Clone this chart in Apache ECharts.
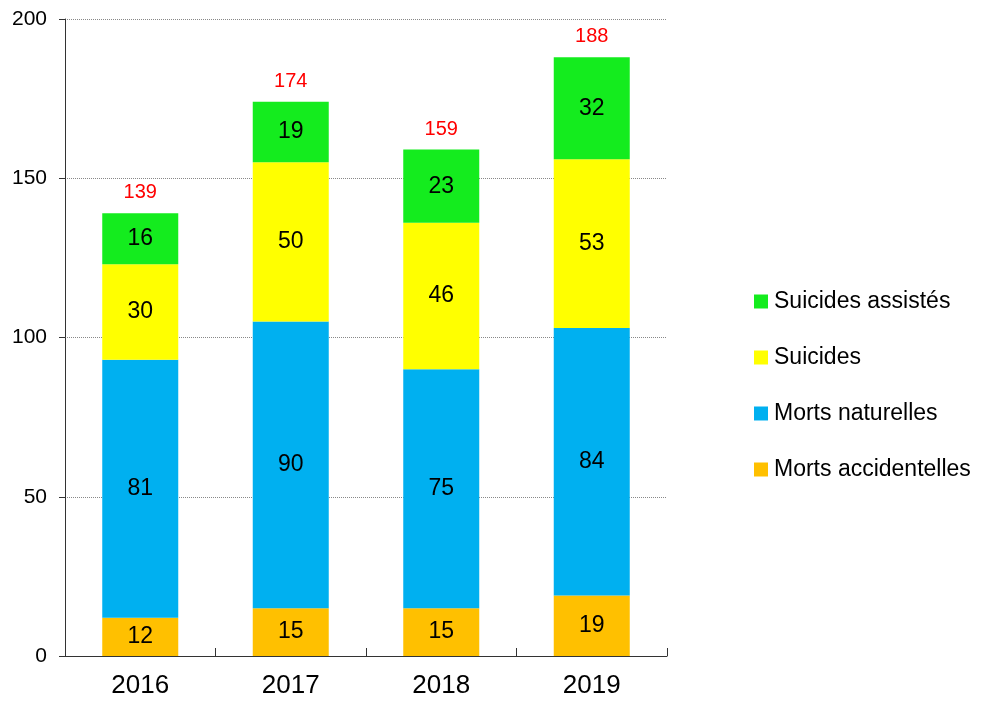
<!DOCTYPE html>
<html><head><meta charset="utf-8">
<script src="https://cdn.jsdelivr.net/npm/echarts@6/dist/echarts.min.js"></script>
<style>html,body{margin:0;padding:0;background:#fff}#c{width:981px;height:702px}</style>
</head><body><div id="c"></div>
<script>
const categories = ['2016','2017','2018','2019'];
const accidentelles = [12,15,15,19];
const naturelles = [81,90,75,84];
const suicides = [30,50,46,53];
const assistes = [16,19,23,32];
const totals = [139,174,159,188];
const yTicks = [0,50,100,150,200];

const font = 'Liberation Sans, Arial, sans-serif';
const chart = echarts.init(document.getElementById('c'));
function barSeries(name, data, color){
  return {name, type:'bar', stack:'s', data, barWidth:76,
    itemStyle:{color},
    label:{show:true, position:'inside', color:'#000', fontSize:23, fontFamily:font},
    emphasis:{disabled:true}};
}
chart.setOption({
  animation:false,
  textStyle:{fontFamily:font},
  grid:{left:65, right:314, top:19, bottom:46},
  legend:{orient:'vertical', left:749, top:285, itemWidth:14, itemHeight:14, itemGap:33,
    icon:'rect',
    textStyle:{fontSize:23, color:'#000', fontFamily:font, padding:[0,0,0,1]},
    data:['Suicides assistés','Suicides','Morts naturelles','Morts accidentelles']},
  xAxis:{type:'category', data:categories,
    axisLine:{lineStyle:{color:'#333', width:1}},
    axisTick:{show:true, inside:true, length:8, lineStyle:{color:'#333'}},
    axisLabel:{fontSize:26, color:'#000', margin:17, fontFamily:font}},
  yAxis:{type:'value', min:yTicks[0], max:yTicks[yTicks.length-1], interval:50,
    axisLine:{show:true, lineStyle:{color:'#333'}},
    axisTick:{show:true, length:6, lineStyle:{color:'#333'}},
    axisLabel:{fontSize:21, color:'#000', margin:18, fontFamily:font},
    splitLine:{show:true, lineStyle:{type:'dotted', color:'#888'}}},
  series:[
    barSeries('Morts accidentelles', accidentelles, '#FFC000'),
    barSeries('Morts naturelles', naturelles, '#00B0F0'),
    barSeries('Suicides', suicides, '#FFFF00'),
    barSeries('Suicides assistés', assistes, '#14EC1E'),
    {name:'Total', type:'scatter', data:totals, symbol:'circle', symbolSize:1, silent:true,
      itemStyle:{color:'rgba(0,0,0,0)', opacity:1},
      label:{show:true, position:'top', distance:10, color:'#FF0000', opacity:1, fontSize:20, fontFamily:font}}
  ]
});
</script></body></html>
